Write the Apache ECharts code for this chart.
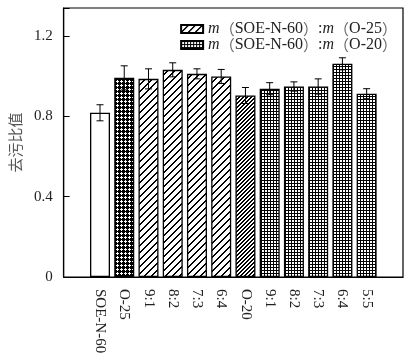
<!DOCTYPE html>
<html><head><meta charset="utf-8">
<script src="https://cdn.jsdelivr.net/npm/echarts@6/dist/echarts.min.js"></script>
<style>html,body{margin:0;padding:0;background:#fff}#c{width:412px;height:362px}</style>
</head><body><div id="c"></div>
<script>
// ---- data ----
const categories = ['SOE-N-60','O-25','9:1','8:2','7:3','6:4','O-20','9:1','8:2','7:3','6:4','5:5'];
const values     = [0.818, 0.992, 0.987, 1.032, 1.012, 0.999, 0.904, 0.938, 0.949, 0.949, 1.062, 0.913];
const errors     = [0.040, 0.060, 0.050, 0.035, 0.025, 0.035, 0.040, 0.030, 0.023, 0.038, 0.030, 0.025];
const groupOf    = ['blank','o25','r25','r25','r25','r25','o20','r20','r20','r20','r20','r20'];
const yTicks     = [0, 0.4, 0.8, 1.2];
const yName      = '去污比值';
const legendNames = ['r25','r20'];
const legendLabels = {
  r25: '{i|m}{p|（}SOE-N-60{p|）}:{i|m}{p|（}O-25{p|）}',
  r20: '{i|m}{p|（}SOE-N-60{p|）}:{i|m}{p|（}O-20{p|）}'
};

// ---- patterns ----
function tile(w, h, draw) {
  const c = document.createElement('canvas'); c.width = w; c.height = h;
  const g = c.getContext('2d'); g.fillStyle = '#fff'; g.fillRect(0,0,w,h);
  g.fillStyle = '#000'; g.strokeStyle = '#000'; draw(g, w, h); return c;
}
function diagPix(g, w, th) {
  for (let y = 0; y < w; y++) {
    const x = w - 1 - y;
    for (let t = 0; t < th; t++) g.fillRect((x + t) % w, y, 1, 1);
  }
}
const pats = {
  blank: '#ffffff',
  o25: { image: tile(4, 4, (g) => {
      g.fillRect(0,0,4,4); g.fillStyle = '#fff';
      g.fillRect(1,0,1,1); g.fillRect(0,1,3,1); g.fillRect(1,2,1,1);
    }), repeat: 'repeat' },
  r25: { image: tile(7, 7, (g,w) => diagPix(g, w, 2)), repeat: 'repeat' },
  o20: { image: tile(4, 4, (g,w) => diagPix(g, w, 2)), repeat: 'repeat' },
  r20: { image: tile(3, 3, (g) => { g.fillRect(0,0,3,1); g.fillRect(0,0,1,3); }), repeat: 'repeat' }
};

// ---- build ----
const cats = [''].concat(categories, ['']);
const groupNames = ['blank','o25','r25','o20','r20'];
const series = groupNames.map(gn => ({
  name: gn, type: 'bar', barWidth: 20, barGap: '-100%',
  itemStyle: { color: pats[gn], borderColor: '#000', borderWidth: 1.3 },
  data: [null].concat(values.map((v,i) => groupOf[i] === gn ? v : null), [null])
}));
series.push({
  type: 'custom', name: 'err', z: 10,
  data: values.map((v,i) => [i+1, v, errors[i]]),
  renderItem: function (params, api) {
    const x = api.value(0), v = api.value(1), e = api.value(2);
    const top = api.coord([x, v + e]), bot = api.coord([x, v - e]);
    const hw = 3.5;
    const st = { stroke: '#000', lineWidth: 1 };
    return { type: 'group', children: [
      { type: 'line', shape: { x1: top[0], y1: top[1], x2: bot[0], y2: bot[1] }, style: st },
      { type: 'line', shape: { x1: top[0]-hw, y1: top[1], x2: top[0]+hw, y2: top[1] }, style: st },
      { type: 'line', shape: { x1: bot[0]-hw, y1: bot[1], x2: bot[0]+hw, y2: bot[1] }, style: st }
    ]};
  }
});

const serif = 'Liberation Serif, Noto Sans CJK SC, serif';
const chart = echarts.init(document.getElementById('c'), null, { renderer: 'canvas' });
chart.setOption({
  animation: false,
  backgroundColor: '#fff',
  grid: { left: 62, right: 9, top: 8, bottom: 85, show: true, borderColor: '#000', borderWidth: 1.2, backgroundColor: 'transparent' },
  legend: {
    data: legendNames, orient: 'vertical', right: 10, top: 16, itemWidth: 22, itemHeight: 8, itemGap: 0,
    icon: 'rect', selectedMode: false,
    formatter: n => legendLabels[n],
    textStyle: { fontFamily: serif, fontSize: 16, color: '#222', lineHeight: 14,
      rich: { i: { fontStyle: 'italic', fontFamily: serif, fontSize: 16, color: '#222', lineHeight: 14 },
              p: { fontFamily: 'Noto Sans CJK SC', fontSize: 15, color: '#666', lineHeight: 14 } } }
  },
  xAxis: {
    type: 'category', data: cats,
    axisLine: { lineStyle: { color: '#000', width: 1.2 } },
    axisTick: { show: false },
    axisLabel: { interval: 0, rotate: -90, margin: 12, fontFamily: serif, fontSize: 15, color: '#222' }
  },
  yAxis: {
    type: 'value', min: 0, max: 1.34, interval: 0.4,
    name: yName, nameLocation: 'middle', nameGap: 32, nameRotate: 90,
    nameTextStyle: { fontFamily: 'Noto Sans CJK SC', fontSize: 15, color: '#555' },
    axisLine: { show: true, lineStyle: { color: '#000', width: 1.2 } },
    axisTick: { show: true, inside: true, length: 6, lineStyle: { color: '#000' } },
    splitLine: { show: false },
    axisLabel: { margin: 11, fontFamily: serif, fontSize: 15, color: '#222',
      formatter: v => (yTicks.indexOf(+v.toFixed(1)) >= 0 ? (v === 0 ? '0' : v.toFixed(1)) : '') }
  },
  series: series
});
</script></body></html>
